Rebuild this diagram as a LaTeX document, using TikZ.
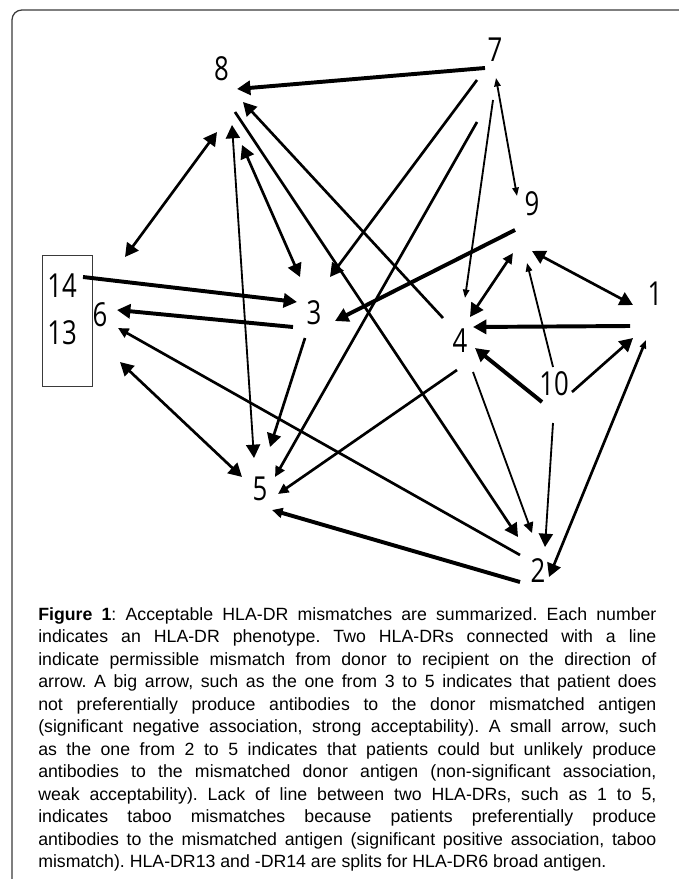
\documentclass[tikz,border=0pt]{standalone}
\usepackage{fontspec}
\setmainfont{Liberation Sans}
\newfontfamily\numfont[FakeStretch=0.78]{Open Sans}
\usetikzlibrary{arrows.meta,calc}
\definecolor{FrameGrey}{HTML}{3A3A3A}
\tikzset{
  drnode/.style={font=\numfont\fontsize{23.5}{24}\selectfont,inner sep=0pt},
  bigtip/.tip={Triangle[length=9.5pt,width=10pt]},
  medtip/.tip={Triangle[length=7.5pt,width=7pt]},
  smalltip/.tip={Triangle[length=6pt,width=4.5pt]},
  thinln/.style={line width=1.3pt},
  midln/.style={line width=1.9pt},
  thickln/.style={line width=2.8pt},
}
\frenchspacing
\begin{document}
\begin{tikzpicture}[x=0.025cm, y=-0.025cm]
  \useasboundingbox (0,0) rectangle (678,879);
  % frame, cut off at right and bottom
  \draw[line width=0.9pt, draw=FrameGrey, rounded corners=7pt] (12,900) -- (12,10) -- (700,10);
  % HLA-DR phenotypes
  \node[drnode] (n8) at (221.5, 68.5) {8};
  \node[drnode] (n7) at (495, 49.5) {7};
  \node[drnode] (n9) at (532, 203.5) {9};
  \node[drnode] (n1) at (655, 293.5) {1};
  \node[drnode] (n3) at (314, 312.5) {3};
  \node[drnode] (n4) at (460, 341) {4};
  \node[drnode] (n10) at (554, 383.5) {10};
  \node[drnode] (n6) at (100, 315) {6};
  \node[drnode] (n5) at (260, 488.5) {5};
  \node[drnode] (n2) at (538, 570.5) {2};
  \node[draw=FrameGrey, line width=0.7pt, minimum width=1.25cm, minimum height=3.25cm, inner sep=0pt] (split) at (67, 321) {};
  \node[drnode] (n14) at (62, 286) {14};
  \node[drnode] (n13) at (62, 333) {13};
  % mismatches, donor -> recipient
  \draw[thickln, -{bigtip}] ($(n7)+(-10,18.5)$) -- ($(n8)+(15.5,20.5)$);
  \draw[midln, -{bigtip}] ($(n4)+(-17,-23)$) -- ($(n8)+(21.5,33.5)$);
  \draw[midln, {bigtip}-{bigtip}] ($(n8)+(-4.5,63.5)$) -- ($(n6)+(25,-58)$);
  \draw[thinln, {bigtip}-{bigtip}] ($(n8)+(10.5,56.5)$) -- ($(n5)+(-6,-30.5)$);
  \draw[midln, {bigtip}-{bigtip}] ($(n8)+(20.5,76.5)$) -- ($(n3)+(-14,-35.5)$);
  \draw[midln, -{bigtip}] ($(n8)+(13.5,43.5)$) -- ($(n2)+(-20,-33.5)$);
  \draw[midln, -{bigtip}] ($(n7)+(-18,30.5)$) -- ($(n3)+(16,-35.5)$);
  \draw[midln, -{medtip}] ($(n7)+(-18,72.5)$) -- ($(n5)+(15,-11.5)$);
  \draw[thinln, -{smalltip}] ($(n7)+(-2,50.5)$) -- ($(n4)+(5,-43)$);
  \draw[thinln, {smalltip}-{smalltip}] ($(n7)+(1,28.5)$) -- ($(n9)+(-15,-7.5)$);
  \draw[thickln, -{bigtip}] ($(n9)+(-17,26.5)$) -- ($(n3)+(21,8.5)$);
  \draw[midln, {medtip}-{bigtip}] ($(n9)+(-19,49.5)$) -- ($(n4)+(10,-24)$);
  \draw[midln, {bigtip}-{bigtip}] ($(n9)+(0,47.5)$) -- ($(n1)+(-22,11.5)$);
  \draw[thinln, -{smalltip}] ($(n10)+(-1,-16.5)$) -- ($(n9)+(-5,59.5)$);
  \draw[thickln, -{bigtip}] ($(n1)+(-25,32.5)$) -- ($(n4)+(13,-14)$);
  \draw[midln, -{bigtip}] ($(n10)+(18,8.5)$) -- ($(n1)+(-22,44.5)$);
  \draw[midln, {smalltip}-{bigtip}] ($(n1)+(-9,46.5)$) -- ($(n2)+(11,6.5)$);
  \draw[thickln, -{bigtip}] ($(n10)+(-12,18.5)$) -- ($(n4)+(15,7)$);
  \draw[thinln, -{bigtip}] ($(n10)+(-1,39.5)$) -- ($(n2)+(7,-23.5)$);
  \draw[thinln, -{medtip}] ($(n4)+(13,31)$) -- ($(n2)+(-6,-37.5)$);
  \draw[midln, -{medtip}] ($(n4)+(-3,29)$) -- ($(n5)+(18,5.5)$);
  \draw[thickln, -{bigtip}] ($(n3)+(-21,14.5)$) -- ($(n6)+(17,-5)$);
  \draw[thickln, -{bigtip}] ($(n14)+(21,-9)$) -- ($(n3)+(-17,-10.5)$);
  \draw[midln, -{bigtip}] ($(n3)+(-9,25.5)$) -- ($(n5)+(10,-41.5)$);
  \draw[midln, -{medtip}] ($(n2)+(-18,-15.5)$) -- ($(n6)+(18,13)$);
  \draw[thickln, -{medtip}] ($(n2)+(-18,11.5)$) -- ($(n5)+(12,21.5)$);
  \draw[midln, {bigtip}-{bigtip}] ($(n6)+(20,47)$) -- ($(n5)+(-18,-11.5)$);
  % caption
  \node[anchor=base west, text width=15.45cm, align=justify, inner sep=0pt, font=\fontsize{12.6}{16}\selectfont] (caption) at (38, 620) {\textbf{Figure 1}: Acceptable HLA-DR mismatches are summarized. Each number\linebreak
  indicates an HLA-DR phenotype. Two HLA-DRs connected with a line\linebreak
  indicate permissible mismatch from donor to recipient on the direction of\linebreak
  arrow. A big arrow, such as the one from 3 to 5 indicates that patient does\linebreak
  not preferentially produce antibodies to the donor mismatched antigen\linebreak
  (significant negative association, strong acceptability). A small arrow, such\linebreak
  as the one from 2 to 5 indicates that patients could but unlikely produce\linebreak
  antibodies to the mismatched donor antigen (non-significant association,\linebreak
  weak acceptability). Lack of line between two HLA-DRs, such as 1 to 5,\linebreak
  indicates taboo mismatches because patients preferentially produce\linebreak
  antibodies to the mismatched antigen (significant positive association, taboo\linebreak
  mismatch). HLA-DR13 and -DR14 are splits for HLA-DR6 broad antigen.};
\end{tikzpicture}
\end{document}
